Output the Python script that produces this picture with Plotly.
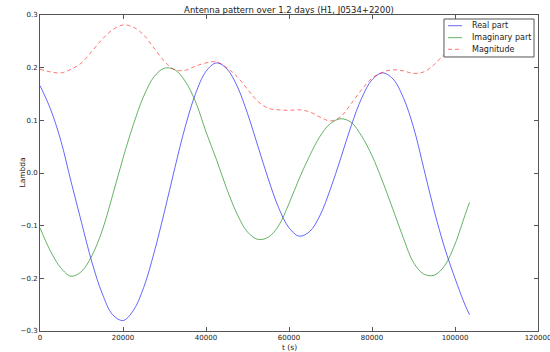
import plotly.graph_objects as go

# ---- data (time in seconds) ----
t_sec = [0, 2500, 5000, 7500, 10000, 12500, 15000, 17500, 20000, 22500, 25000, 27500,
         30000, 32500, 35000, 37500, 40000, 42500, 45000, 47500, 50000, 52500, 55000,
         57500, 60000, 62500, 65000, 67500, 70000, 72500, 75000, 77500, 80000, 82500,
         85000, 87500, 90000, 92500, 95000, 97500, 100000, 102500, 103500]

real_part = [0.166, 0.122, 0.062, -0.017, -0.094, -0.169, -0.229, -0.269, -0.280, -0.261,
             -0.217, -0.151, -0.073, 0.010, 0.088, 0.151, 0.193, 0.209, 0.198, 0.165,
             0.113, 0.051, -0.011, -0.066, -0.104, -0.120, -0.111, -0.080, -0.030, 0.029,
             0.090, 0.142, 0.177, 0.190, 0.179, 0.144, 0.087, 0.008, -0.072, -0.142,
             -0.200, -0.252, -0.269]

imag_part = [-0.104, -0.148, -0.180, -0.196, -0.187, -0.157, -0.109, -0.042, 0.028, 0.092,
             0.146, 0.183, 0.199, 0.196, 0.174, 0.135, 0.078, 0.026, -0.030, -0.078,
             -0.112, -0.126, -0.122, -0.100, -0.058, -0.010, 0.033, 0.070, 0.094, 0.103,
             0.096, 0.070, 0.033, -0.015, -0.068, -0.122, -0.170, -0.192, -0.194, -0.176,
             -0.135, -0.078, -0.056]

magnitude = [0.197, 0.192, 0.190, 0.197, 0.209, 0.231, 0.254, 0.272, 0.281, 0.277,
             0.262, 0.237, 0.212, 0.196, 0.195, 0.203, 0.209, 0.211, 0.200, 0.183,
             0.159, 0.136, 0.123, 0.120, 0.119, 0.120, 0.116, 0.106, 0.099, 0.107,
             0.132, 0.158, 0.180, 0.191, 0.196, 0.194, 0.189, 0.192, 0.206, 0.226,
             0.241, 0.264, 0.275]

series_names = ["Real part", "Imaginary part", "Magnitude"]
x_ticks = [0, 20000, 40000, 60000, 80000, 100000, 120000]
y_ticks = [-0.3, -0.2, -0.1, 0.0, 0.1, 0.2, 0.3]

FONT = "DejaVu Sans"
TXT = "#222"
AX = "#555"
colors = ["rgba(0,0,255,0.6)", "rgba(0,128,0,0.6)", "rgba(255,0,0,0.55)"]
dashes = ["solid", "solid", "4px,3px"]

fig = go.Figure()
for name, vals, col, dsh in zip(series_names, [real_part, imag_part, magnitude], colors, dashes):
    fig.add_trace(go.Scatter(x=t_sec, y=vals, mode="lines", name=name, showlegend=False,
                             line=dict(color=col, width=1, shape="spline", dash=dsh)))

axis_common = dict(showgrid=False, zeroline=False, showline=True, linecolor=AX,
                   linewidth=1, mirror="ticks", ticks="inside", ticklen=4,
                   tickcolor=AX, automargin=False, ticklabeloverflow="allow",
                   tickfont=dict(family=FONT, size=7, color=TXT))

fig.update_xaxes(range=[0, 120000], tickvals=x_ticks, tickformat="d", **axis_common)
fig.update_yaxes(range=[-0.3, 0.3], tickvals=y_ticks, tickformat=".1f", **axis_common)

fig.update_layout(
    width=550, height=352,
    margin=dict(l=40, r=12, t=15, b=21),
    paper_bgcolor="white", plot_bgcolor="white",
    font=dict(family=FONT, size=8, color=TXT),
    showlegend=False,
    title=dict(text="Antenna pattern over 1.2 days (H1, J0534+2200)",
               x=(40 + 538) / 2 / 550, xanchor="center",
               y=1 - 10 / 352, yanchor="middle", yref="container",
               font=dict(family=FONT, size=8.5, color=TXT)),
)

# axis titles
fig.add_annotation(text="t (s)", xref="paper", yref="paper", x=0.5, y=0,
                   yshift=-16, yanchor="middle", showarrow=False,
                   font=dict(family=FONT, size=7.5, color=TXT))
fig.add_annotation(text="Lambda", xref="paper", yref="paper", x=0, y=0.5,
                   xshift=-25, textangle=-90, showarrow=False,
                   font=dict(family=FONT, size=7.5, color=TXT))

# legend box (matplotlib-style, compact rows)
fig.add_shape(type="rect", xref="paper", yref="paper", x0=0.8112, x1=0.992,
              y0=0.8671, y1=0.9873, fillcolor="white", line=dict(color=AX, width=1),
              layer="above")
row_y = [0.9661, 0.9282, 0.8915]
for name, col, dsh, ry in zip(series_names, colors, dashes, row_y):
    fig.add_shape(type="line", xref="paper", yref="paper", x0=0.8193, x1=0.8474,
                  y0=ry, y1=ry, line=dict(color=col, width=1, dash=dsh), layer="above")
    fig.add_annotation(text=name, xref="paper", yref="paper", x=0.8635, y=ry,
                       xanchor="left", yanchor="middle", showarrow=False,
                       font=dict(family=FONT, size=8, color=TXT))

fig.write_html("out.html", config={"displayModeBar": False},
               post_script="document.body.style.margin='0px';")
